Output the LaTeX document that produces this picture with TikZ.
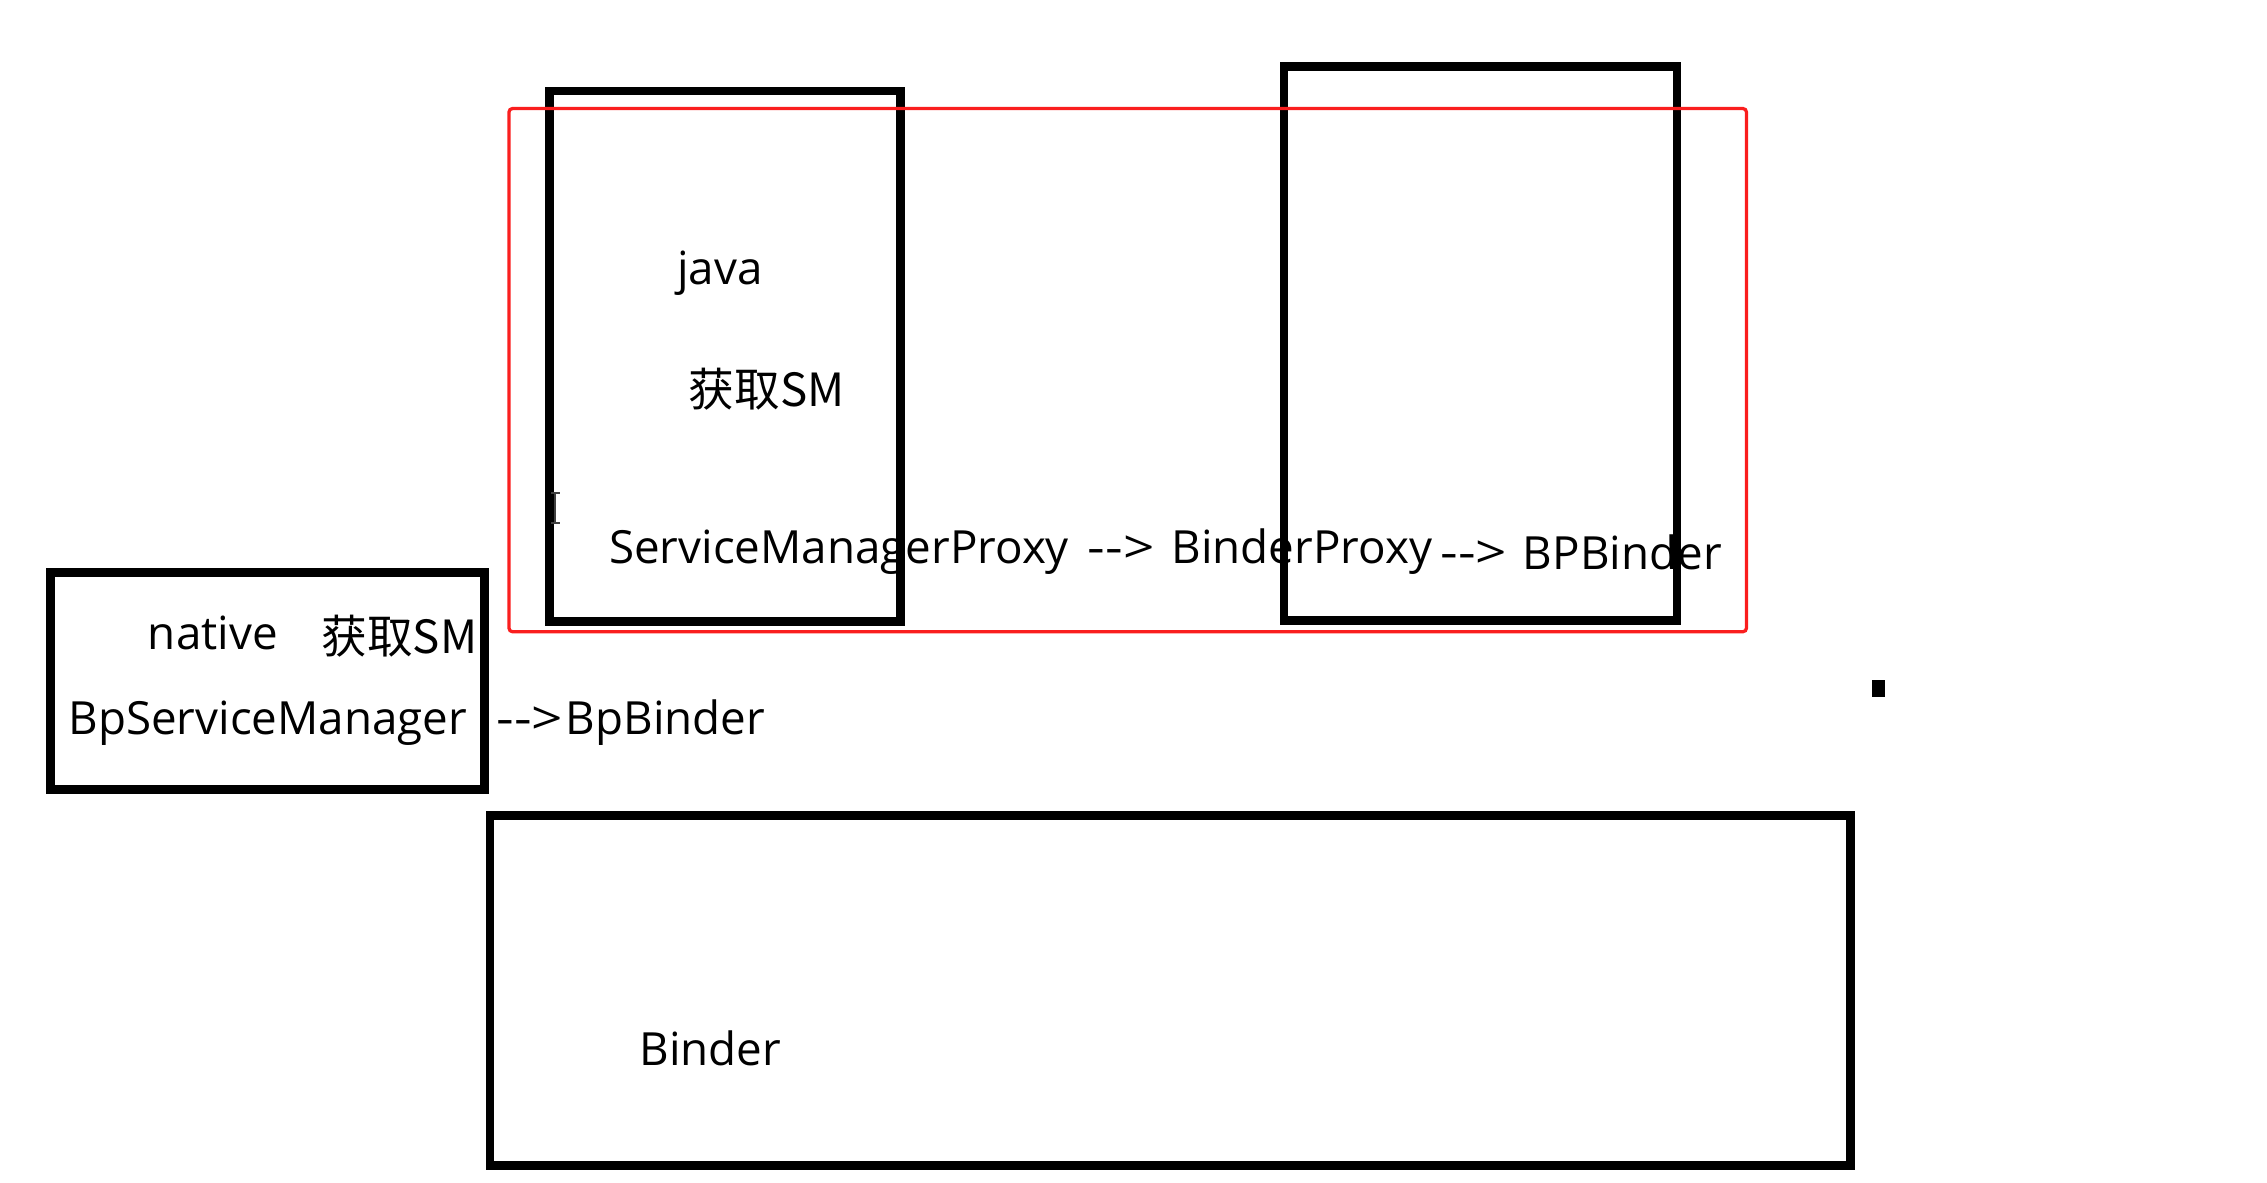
\documentclass[tikz,border=0pt]{standalone}
\usepackage{graphicx}
\usepackage{fontspec}
\setmainfont{Open Sans}[Ligatures=TeXOff]
\newfontfamily\cjk{Noto Sans CJK SC}[Ligatures=TeXOff]
\definecolor{rd}{RGB}{250,30,30}
\newcommand{\wdarrow}{\scalebox{1.2}[1]{-{}-{}>}}
\begin{document}
\begin{tikzpicture}[x=0.02cm,y=-0.02cm,
  box/.style={draw=black,line width=0.12cm},
  redbox/.style={draw=rd,line width=0.045cm,rounded corners=1.5pt},
  lbl/.style={anchor=base west,inner sep=0pt,font=\fontsize{18}{20}\selectfont}]
\useasboundingbox (0,0) rectangle (1568,818);
% boxes
\draw[box] (380,63) rectangle (623,430);
\draw[box] (888,46) rectangle (1160,429);
\draw[box] (35,396) rectangle (335,546);
\draw[box] (339,564) rectangle (1280,806);
\draw[redbox] (352,75) rectangle (1208,437);
% small square
\fill[black] (1295,470) rectangle (1304,482);
% cursor
\draw[gray!50!black,line width=0.8pt] (384,341) -- (384,362) (381,341) -- (387,341) (381,362) -- (387,362);
% texts
\node[lbl] (java) at (468,197) {java};
\node[lbl] (getj) at (476,281) {\cjk 获取SM};
\node[lbl] (smp) at (421,390) {ServiceManagerProxy};
\node[lbl] (ar1) at (752,390) {\wdarrow};
\node[lbl] (bp) at (810,390) {BinderProxy};
\node[lbl] (ar2) at (996,393) {\wdarrow};
\node[lbl] (bpb) at (1053,394) {BPBinder};
\node[lbl] (nat) at (102,449) {native};
\node[lbl] (getn) at (222,452) {\cjk 获取SM};
\node[lbl] (bsm) at (47,508) {BpServiceManager};
\node[lbl] (ar3) at (343,508) {\wdarrow};
\node[lbl] (bpb2) at (391,508) {BpBinder};
\node[lbl] (bin) at (442,737) {Binder};
\end{tikzpicture}
\end{document}
